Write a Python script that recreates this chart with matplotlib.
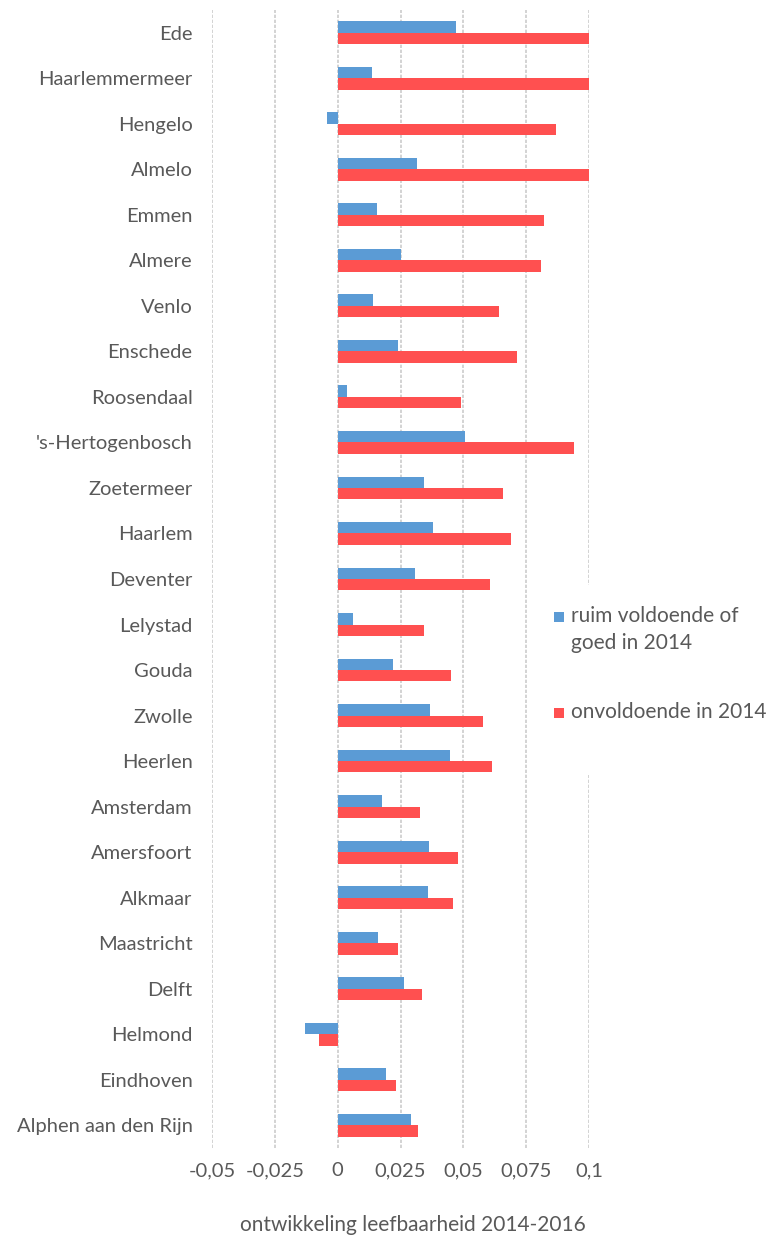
#!/usr/bin/env python3
"""Ontwikkeling leefbaarheid 2014-2016 per gemeente (horizontale staafgrafiek)."""

import numpy as np
import matplotlib
matplotlib.use('Agg')
import matplotlib.pyplot as plt
from matplotlib.patches import Rectangle
from matplotlib.ticker import FixedLocator, FuncFormatter

plt.rcParams['font.family'] = ['Lato', 'DejaVu Sans']

# gemeenten, van boven naar beneden
gemeenten = [
    'Ede', 'Haarlemmermeer', 'Hengelo', 'Almelo', 'Emmen', 'Almere', 'Venlo',
    'Enschede', 'Roosendaal', "'s-Hertogenbosch", 'Zoetermeer', 'Haarlem',
    'Deventer', 'Lelystad', 'Gouda', 'Zwolle', 'Heerlen', 'Amsterdam',
    'Amersfoort', 'Alkmaar', 'Maastricht', 'Delft', 'Helmond', 'Eindhoven',
    'Alphen aan den Rijn',
]
ruim_voldoende = [
    0.0469, 0.0138, -0.0044, 0.0316, 0.0157, 0.0250, 0.0142,
    0.0238, 0.0037, 0.0507, 0.0344, 0.0378,
    0.0307, 0.0061, 0.0220, 0.0368, 0.0445, 0.0177,
    0.0364, 0.0359, 0.0162, 0.0263, -0.0130, 0.0191,
    0.0292,
]
onvoldoende = [
    0.1000, 0.1000, 0.0867, 0.1000, 0.0819, 0.0810, 0.0643,
    0.0714, 0.0489, 0.0940, 0.0656, 0.0691,
    0.0604, 0.0344, 0.0450, 0.0579, 0.0614, 0.0329,
    0.0479, 0.0459, 0.0239, 0.0335, -0.0073, 0.0230,
    0.0320,
]
reeksen = ['ruim voldoende of\ngoed in 2014', 'onvoldoende in 2014']
xticks = [-0.05, -0.025, 0, 0.025, 0.05, 0.075, 0.1]

BLAUW = '#5b9bd5'
ROOD = '#ff5050'
TEKST = '#595959'

W, H = 771, 1239
fig = plt.figure(figsize=(W / 100, H / 100), dpi=100)
ax = fig.add_axes([0.275, 0.0734, 0.489, 0.9186])

y = np.arange(len(gemeenten))
h = 0.25
ax.barh(y - h / 2, ruim_voldoende, h, color=BLAUW, zorder=3)
ax.barh(y + h / 2, onvoldoende, h, color=ROOD, zorder=3)

ax.set_xlim(-0.05, 0.1)
ax.set_ylim(len(gemeenten) - 0.5, -0.5)
ax.set_yticks(y)
ax.set_yticklabels(gemeenten)
ax.xaxis.set_major_locator(FixedLocator(xticks))
ax.xaxis.set_major_formatter(FuncFormatter(lambda v, p: ('%g' % v).replace('.', ',')))

for s in ax.spines.values():
    s.set_visible(False)
ax.tick_params(axis='y', length=0, pad=14, labelsize=14.5, labelcolor=TEKST)
ax.tick_params(axis='x', length=0, pad=10, labelsize=14.5, labelcolor=TEKST)
ax.grid(axis='x', color='#cccccc', linestyle=(0, (2, 1)), linewidth=1.2, zorder=0)
ax.set_axisbelow(True)

ax.set_xlabel('ontwikkeling leefbaarheid 2014-2016', fontsize=15, color=TEKST)
ax.xaxis.set_label_coords(0.533, -0.0677)
ax.xaxis.label.set_va('center')

# legenda (Excel-stijl: blokje naast de eerste regel, witte achtergrond)
def fx(px):
    return px / W

def fy(py):
    return 1 - py / H

fig.patches.append(Rectangle((fx(540), fy(775)), fx(771) - fx(540), fy(585) - fy(775),
                             transform=fig.transFigure, facecolor='white',
                             edgecolor='none', zorder=4))
for naam, kleur, py in zip(reeksen, [BLAUW, ROOD], [617, 713]):
    fig.patches.append(Rectangle((fx(554), fy(py + 5)), fx(10), 10 / H,
                                 transform=fig.transFigure, facecolor=kleur,
                                 edgecolor='none', zorder=5))
    fig.text(fx(571), fy(py - 11), naam, fontsize=15, color=TEKST, va='top',
             ha='left', linespacing=1.45, zorder=5)

fig.savefig('out.png', dpi=100)
